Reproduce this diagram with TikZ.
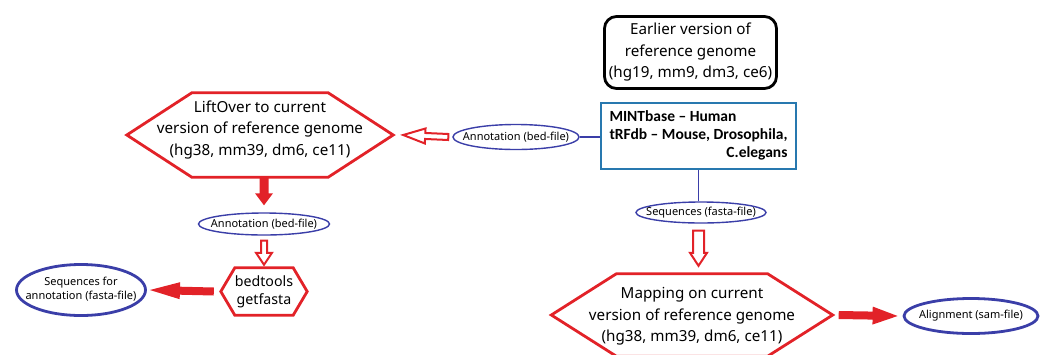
\documentclass[tikz,border=0pt]{standalone}
\usepackage{fontspec}
\setmainfont{Noto Sans}
\newfontfamily\boxfont{Carlito}
\usetikzlibrary{shapes.geometric,calc}

\definecolor{flowred}{RGB}{226,34,40}
\definecolor{fileblue}{RGB}{58,62,168}
\definecolor{dbblue}{RGB}{40,120,175}

% zero-width wrapper so the ellipse size comes from its minimum size only
\newcommand\zerowd[1]{\makebox[0pt]{#1}}

% block arrow: #1 style, #2 tail, #3 tip, #4 shaft half-width, #5 head half-width, #6 head length
\newcommand\blockarrow[6]{%
  \path (#2) coordinate (bas) (#3) coordinate (bat);
  \path ($(bat)!#6!(bas)$) coordinate (bah);
  \draw[#1] ($(bas)!#4!90:(bat)$) -- ($(bah)!#4!-90:(bas)$) -- ($(bah)!#5!-90:(bas)$)
    -- (bat) -- ($(bah)!#5!90:(bas)$) -- ($(bah)!#4!90:(bas)$)
    -- ($(bas)!#4!-90:(bat)$) -- cycle;
}

% hexagon outline on a node's rectangle, #2 = horizontal inset of the top and bottom edges
\newcommand\hexframe[2]{%
  \draw[hexline] (#1.west) -- ([xshift=#2]#1.north west) -- ([xshift=-#2]#1.north east)
    -- (#1.east) -- ([xshift=-#2]#1.south east) -- ([xshift=#2]#1.south west) -- cycle;
}

\begin{document}
\begin{tikzpicture}[x=1pt,y=-1pt,
  proc/.style={align=center, inner sep=0pt, font=\fontsize{15.2}{21.5}\selectfont},
  file/.style={ellipse, draw=fileblue, line width=1.4pt, inner sep=0pt,
    font=\fontsize{11}{13.5}\selectfont},
  bigfile/.style={file, line width=2.8pt},
  hexline/.style={draw=flowred, line width=2.8pt, line join=miter},
  solidarrow/.style={fill=flowred, draw=none},
  hollowarrow/.style={draw=flowred, fill=white, line width=2pt, line join=miter},
  link/.style={draw=fileblue, line width=1.4pt}]

\useasboundingbox (0,0) rectangle (1049,354);

% source databases
\node[draw, line width=2.8pt, rounded corners=12pt, minimum width=172pt, minimum height=72pt,
  proc] (earlier) at (690.5,52.5)
  {Earlier version of\\reference genome\\(hg19, mm9, dm3, ce6)};
\node[draw=dbblue, line width=2.4pt, minimum width=195pt, minimum height=66pt, inner sep=0pt,
  font=\boxfont\bfseries\fontsize{15.5}{18}\selectfont] (db) at (698.5,136)
  {\begin{tabular}{@{}l@{}}MINTbase – Human\\tRFdb – Mouse, Drosophila,\\
   \multicolumn{1}{@{}r@{}}{C.elegans}\end{tabular}};

% processing steps
\node[proc, minimum width=266pt, minimum height=84pt, text depth=14pt] (lift) at (260,135)
  {LiftOver to current\\version of reference genome\\(hg38, mm39, dm6, ce11)};
\hexframe{lift}{65pt}
\node[proc, minimum width=86pt, minimum height=47pt, font=\fontsize{14.2}{18}\selectfont]
  (bed) at (264,291.5) {bedtools\\getfasta};
\hexframe{bed}{14pt}
\node[proc, minimum width=281pt, minimum height=82pt, text depth=1pt] (map) at (692,315)
  {Mapping on current\\version of reference genome\\(hg38, mm39, dm6, ce11)};
\hexframe{map}{65pt}

% files
\node[file, minimum width=126pt, minimum height=25pt] (ann1) at (516,137)
  {\zerowd{Annotation (bed-file)}};
\node[file, minimum width=131pt, minimum height=22pt] (ann2) at (264,224)
  {\zerowd{Annotation (bed-file)}};
\node[file, minimum width=130pt, minimum height=21pt] (seqs) at (701,212.5)
  {\zerowd{Sequences (fasta-file)}};
\node[bigfile, minimum width=134pt, minimum height=35pt] (align) at (971,316)
  {\zerowd{Alignment (sam-file)}};
\node[bigfile, minimum width=129pt, minimum height=51pt] (seqfa) at (81,290)
  {\zerowd{\begin{tabular}{@{}c@{}}Sequences for\\annotation (fasta-file)\end{tabular}}};

% plain links
\draw[link] (ann1.east) -- (ann1.east -| db.west);
\draw[link] (db.south) -- (seqs.north -| db.south);

% block arrows
\blockarrow{hollowarrow}{$(ann1.west)+(-4,0)$}{$(lift.east)+(10,0)$}{3pt}{7.5pt}{22pt}
\blockarrow{solidarrow}{ann2.north |- lift.south}{$(ann2.north)+(0,-7)$}{4.5pt}{9pt}{12pt}
\blockarrow{hollowarrow}{$(ann2.south)+(0,5)$}{$(bed.north)+(0,-3)$}{3pt}{8pt}{12pt}
\blockarrow{solidarrow}{$(bed.west)+(-7,0)$}{$(seqfa.east)+(3,0)$}{4pt}{8.5pt}{30pt}
\blockarrow{hollowarrow}{$(seqs.south -| db.south)+(0,7)$}{$(map.north -| db.south)+(0,-8)$}{5.5pt}{8.5pt}{13pt}
\blockarrow{solidarrow}{$(map.east)+(6,0)$}{$(align.west)+(-5,0)$}{4pt}{9pt}{25pt}
\end{tikzpicture}
\end{document}
